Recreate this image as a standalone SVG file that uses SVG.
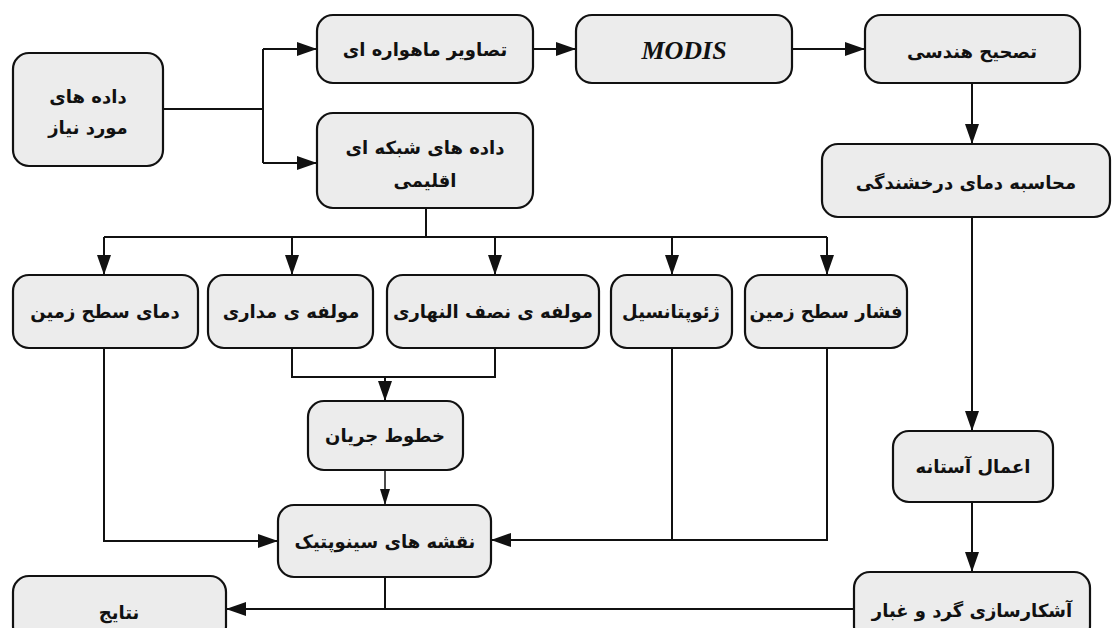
<svg xmlns="http://www.w3.org/2000/svg" width="1113" height="628" viewBox="0 0 1113 628">
<style>
.box{fill:#ececec;stroke:#111;stroke-width:2.2}
.t{font-family:"DejaVu Sans",sans-serif;font-weight:bold;font-size:18px;fill:#111;text-anchor:middle;dominant-baseline:central}
.m{font-family:"Liberation Serif",serif;font-weight:bold;font-style:italic;font-size:26px;fill:#111;text-anchor:middle;dominant-baseline:central}
.c{fill:none;stroke:#111;stroke-width:2}
.cs{fill:none;stroke:#111;stroke-width:1.5}
</style>
<defs>
<marker id="a" markerUnits="userSpaceOnUse" markerWidth="20" markerHeight="14" refX="20" refY="7" orient="auto"><path d="M0,0 L20,7 L0,14 z" fill="#111"/></marker>
<marker id="s" markerUnits="userSpaceOnUse" markerWidth="16" markerHeight="10" refX="16" refY="5" orient="auto"><path d="M0,0 L16,5 L0,10 z" fill="#111"/></marker>
</defs>
<rect width="1113" height="628" fill="#fff"/>
<g id="connectors">
<path class="c" d="M163,109 H263"/>
<path class="c" d="M263,49 V163"/>
<path class="c" d="M263,49 H317" marker-end="url(#a)"/>
<path class="c" d="M263,163 H317" marker-end="url(#a)"/>
<path class="c" d="M533,49 H576" marker-end="url(#a)"/>
<path class="c" d="M792,49 H865" marker-end="url(#a)"/>
<path class="c" d="M972,83 V144" marker-end="url(#a)"/>
<path class="c" d="M426,208 V237"/>
<path class="c" d="M104,237 H827"/>
<path class="c" d="M104,237 V275" marker-end="url(#a)"/>
<path class="c" d="M292,237 V275" marker-end="url(#a)"/>
<path class="c" d="M495,237 V275" marker-end="url(#a)"/>
<path class="c" d="M672,237 V275" marker-end="url(#a)"/>
<path class="c" d="M827,237 V275" marker-end="url(#a)"/>
<path class="c" d="M292,348 V377 H495 V348"/>
<path class="c" d="M385,377 V401" marker-end="url(#a)"/>
<path class="cs" d="M385,470 V505" marker-end="url(#s)"/>
<path class="c" d="M104,348 V541 H278" marker-end="url(#a)"/>
<path class="c" d="M672,348 V540"/>
<path class="c" d="M827,348 V540 H491" marker-end="url(#a)"/>
<path class="c" d="M972,217 V431" marker-end="url(#a)"/>
<path class="c" d="M972,502 V572" marker-end="url(#a)"/>
<path class="c" d="M385,577 V609"/>
<path class="c" d="M854,609 H226" marker-end="url(#a)"/>
</g>
<g id="n1"><rect class="box" x="13" y="53" width="150" height="113" rx="16"/><text class="t" x="88" y="96">داده های</text><text class="t" x="88" y="127">مورد نیاز</text></g>
<g id="n2"><rect class="box" x="317" y="15" width="216" height="68" rx="16"/><text class="t" x="425" y="49">تصاویر ماهواره ای</text></g>
<g id="n3"><rect class="box" x="317" y="113" width="216" height="95" rx="16"/><text class="t" x="425" y="147">داده های شبکه ای</text><text class="t" x="425" y="180">اقلیمی</text></g>
<g id="n4"><rect class="box" x="576" y="15" width="216" height="68" rx="16"/><text class="m" x="684" y="50">MODIS</text></g>
<g id="n5"><rect class="box" x="865" y="15" width="215" height="68" rx="16"/><text class="t" x="972" y="51">تصحیح هندسی</text></g>
<g id="n6"><rect class="box" x="822" y="144" width="288" height="73" rx="16"/><text class="t" x="966" y="182">محاسبه دمای درخشندگی</text></g>
<g id="n7"><rect class="box" x="13" y="275" width="185" height="73" rx="16"/><text class="t" x="105" y="311">دمای سطح زمین</text></g>
<g id="n8"><rect class="box" x="208" y="275" width="165" height="73" rx="16"/><text class="t" x="291" y="311">مولفه ی مداری</text></g>
<g id="n9"><rect class="box" x="387" y="275" width="212" height="73" rx="16"/><text class="t" x="493" y="311">مولفه ی نصف النهاری</text></g>
<g id="n10"><rect class="box" x="611" y="275" width="121" height="73" rx="16"/><text class="t" x="671" y="311">ژئوپتانسیل</text></g>
<g id="n11"><rect class="box" x="745" y="275" width="162" height="73" rx="16"/><text class="t" x="826" y="311">فشار سطح زمین</text></g>
<g id="n12"><rect class="box" x="308" y="401" width="155" height="69" rx="16"/><text class="t" x="385" y="435">خطوط جریان</text></g>
<g id="n13"><rect class="box" x="278" y="505" width="213" height="72" rx="16"/><text class="t" x="385" y="541">نقشه های سینوپتیک</text></g>
<g id="n14"><rect class="box" x="893" y="431" width="160" height="71" rx="16"/><text class="t" x="973" y="466">اعمال آستانه</text></g>
<g id="n15"><rect class="box" x="854" y="572" width="236" height="70" rx="16"/><text class="t" x="972" y="610">آشکارسازی گرد و غبار</text></g>
<g id="n16"><rect class="box" x="13" y="576" width="213" height="66" rx="16"/><text class="t" x="119" y="612">نتایج</text></g>
</svg>
